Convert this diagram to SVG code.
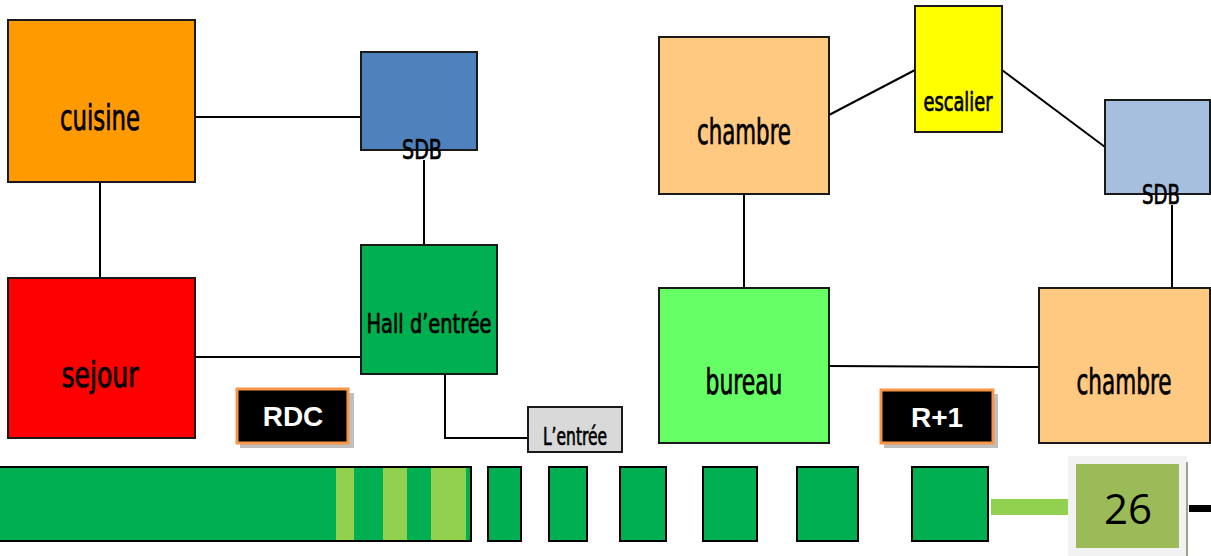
<svg xmlns="http://www.w3.org/2000/svg" width="1211" height="556" viewBox="0 0 1211 556">
<style>
.n{stroke:#1a1a1a;stroke-width:2}
.t{font-family:"DejaVu Sans Condensed","Liberation Sans Narrow",sans-serif;fill:#000;stroke:#000;stroke-width:0.7;text-anchor:middle}
.big{font-size:35px}
.mid{font-size:26px}
.sm{font-size:24px}
.c{stroke:#000;stroke-width:2;fill:none}
.lab{fill:#000;stroke:#F79646;stroke-width:3}
.sh{fill:#BFBFBF}
.lt{font-family:"Liberation Sans",Arial,sans-serif;font-weight:bold;font-size:28px;fill:#fff;text-anchor:middle}
.bar{fill:#00B050;stroke:#000;stroke-width:2}
.str{fill:#92D050}
</style>
<rect width="1211" height="556" fill="#fff"/>
<g id="connectors">
<line class="c" x1="195" y1="117" x2="361" y2="117"/>
<line class="c" x1="100" y1="182" x2="100" y2="278"/>
<line class="c" x1="424" y1="160" x2="424" y2="245"/>
<line class="c" x1="195" y1="357" x2="361" y2="357"/>
<polyline class="c" points="445,374 445,438 528,438"/>
<line class="c" x1="829" y1="115" x2="915" y2="70"/>
<line class="c" x1="1002" y1="70" x2="1105" y2="147"/>
<line class="c" x1="744" y1="194" x2="744" y2="288"/>
<line class="c" x1="829" y1="366" x2="1039" y2="367"/>
<line class="c" x1="1172" y1="205" x2="1172" y2="288"/>
</g>
<g id="cuisine"><rect class="n" x="8" y="20" width="187" height="162" fill="#FF9A00"/><text class="t big" x="100" y="130" textLength="80" lengthAdjust="spacingAndGlyphs">cuisine</text></g>
<g id="sdb1"><rect class="n" x="361" y="52" width="116" height="98" fill="#4F81BD"/><text class="t mid" x="422" y="159" textLength="40" lengthAdjust="spacingAndGlyphs">SDB</text></g>
<g id="sejour"><rect class="n" x="8" y="278" width="187" height="160" fill="#FF0000"/><text class="t big" x="100" y="387" textLength="77" lengthAdjust="spacingAndGlyphs">sejour</text></g>
<g id="hall"><rect class="n" x="361" y="245" width="136" height="129" fill="#00B050"/><text class="t mid" x="429" y="333" textLength="125" lengthAdjust="spacingAndGlyphs">Hall d’entrée</text></g>
<g id="entree"><rect class="n" x="528" y="407" width="94" height="45" fill="#D9D9D9"/><text class="t sm" x="575" y="445" textLength="64" lengthAdjust="spacingAndGlyphs">L’entrée</text></g>
<g id="rdc"><rect class="sh" x="240" y="393" width="114" height="55"/><rect class="lab" x="237" y="389" width="111" height="54"/><text class="lt" x="293" y="426">RDC</text></g>
<g id="chambre1"><rect class="n" x="659" y="37" width="170" height="157" fill="#FFC982"/><text class="t big" x="744" y="144" textLength="94" lengthAdjust="spacingAndGlyphs">chambre</text></g>
<g id="escalier"><rect class="n" x="915" y="6" width="87" height="126" fill="#FFFF00"/><text class="t mid" x="958" y="111" textLength="69" lengthAdjust="spacingAndGlyphs">escalier</text></g>
<g id="sdb2"><rect class="n" x="1105" y="100" width="105" height="94" fill="#A7BFDE"/><text class="t mid" x="1161" y="204" textLength="38" lengthAdjust="spacingAndGlyphs">SDB</text></g>
<g id="bureau"><rect class="n" x="659" y="288" width="170" height="155" fill="#66FF66"/><text class="t big" x="744" y="394" textLength="77" lengthAdjust="spacingAndGlyphs">bureau</text></g>
<g id="chambre2"><rect class="n" x="1039" y="288" width="171" height="155" fill="#FFC982"/><text class="t big" x="1124" y="394" textLength="95" lengthAdjust="spacingAndGlyphs">chambre</text></g>
<g id="r1"><rect class="sh" x="884" y="394" width="114" height="54"/><rect class="lab" x="881" y="390" width="112" height="53"/><text class="lt" x="937" y="427">R+1</text></g>
<g id="footer">
<rect class="bar" x="-2" y="467" width="473" height="74"/>
<rect class="str" x="336" y="468" width="18" height="72"/>
<rect class="str" x="383" y="468" width="24" height="72"/>
<rect class="str" x="431" y="468" width="35" height="72"/>
<rect class="bar" x="488" y="467" width="33" height="74"/>
<rect class="bar" x="549" y="467" width="38" height="74"/>
<rect class="bar" x="620" y="467" width="46" height="74"/>
<rect class="bar" x="703" y="467" width="54" height="74"/>
<rect class="bar" x="797" y="467" width="61" height="74"/>
<rect class="bar" x="912" y="467" width="76" height="74"/>
<rect x="991" y="499" width="77" height="16" fill="#92D050"/>
<rect x="1068" y="456" width="119" height="100" fill="#F2F2F2"/>
<rect x="1186" y="462" width="2" height="94" fill="#A0A090"/>
<rect x="1076" y="464" width="103" height="84" fill="#9BBB59"/>
<text x="1128" y="524" font-family="'Open Sans','Liberation Sans',sans-serif" font-size="42" fill="#000" text-anchor="middle">26</text>
<rect x="1189" y="505" width="22" height="7" fill="#000"/>
</g>
</svg>
